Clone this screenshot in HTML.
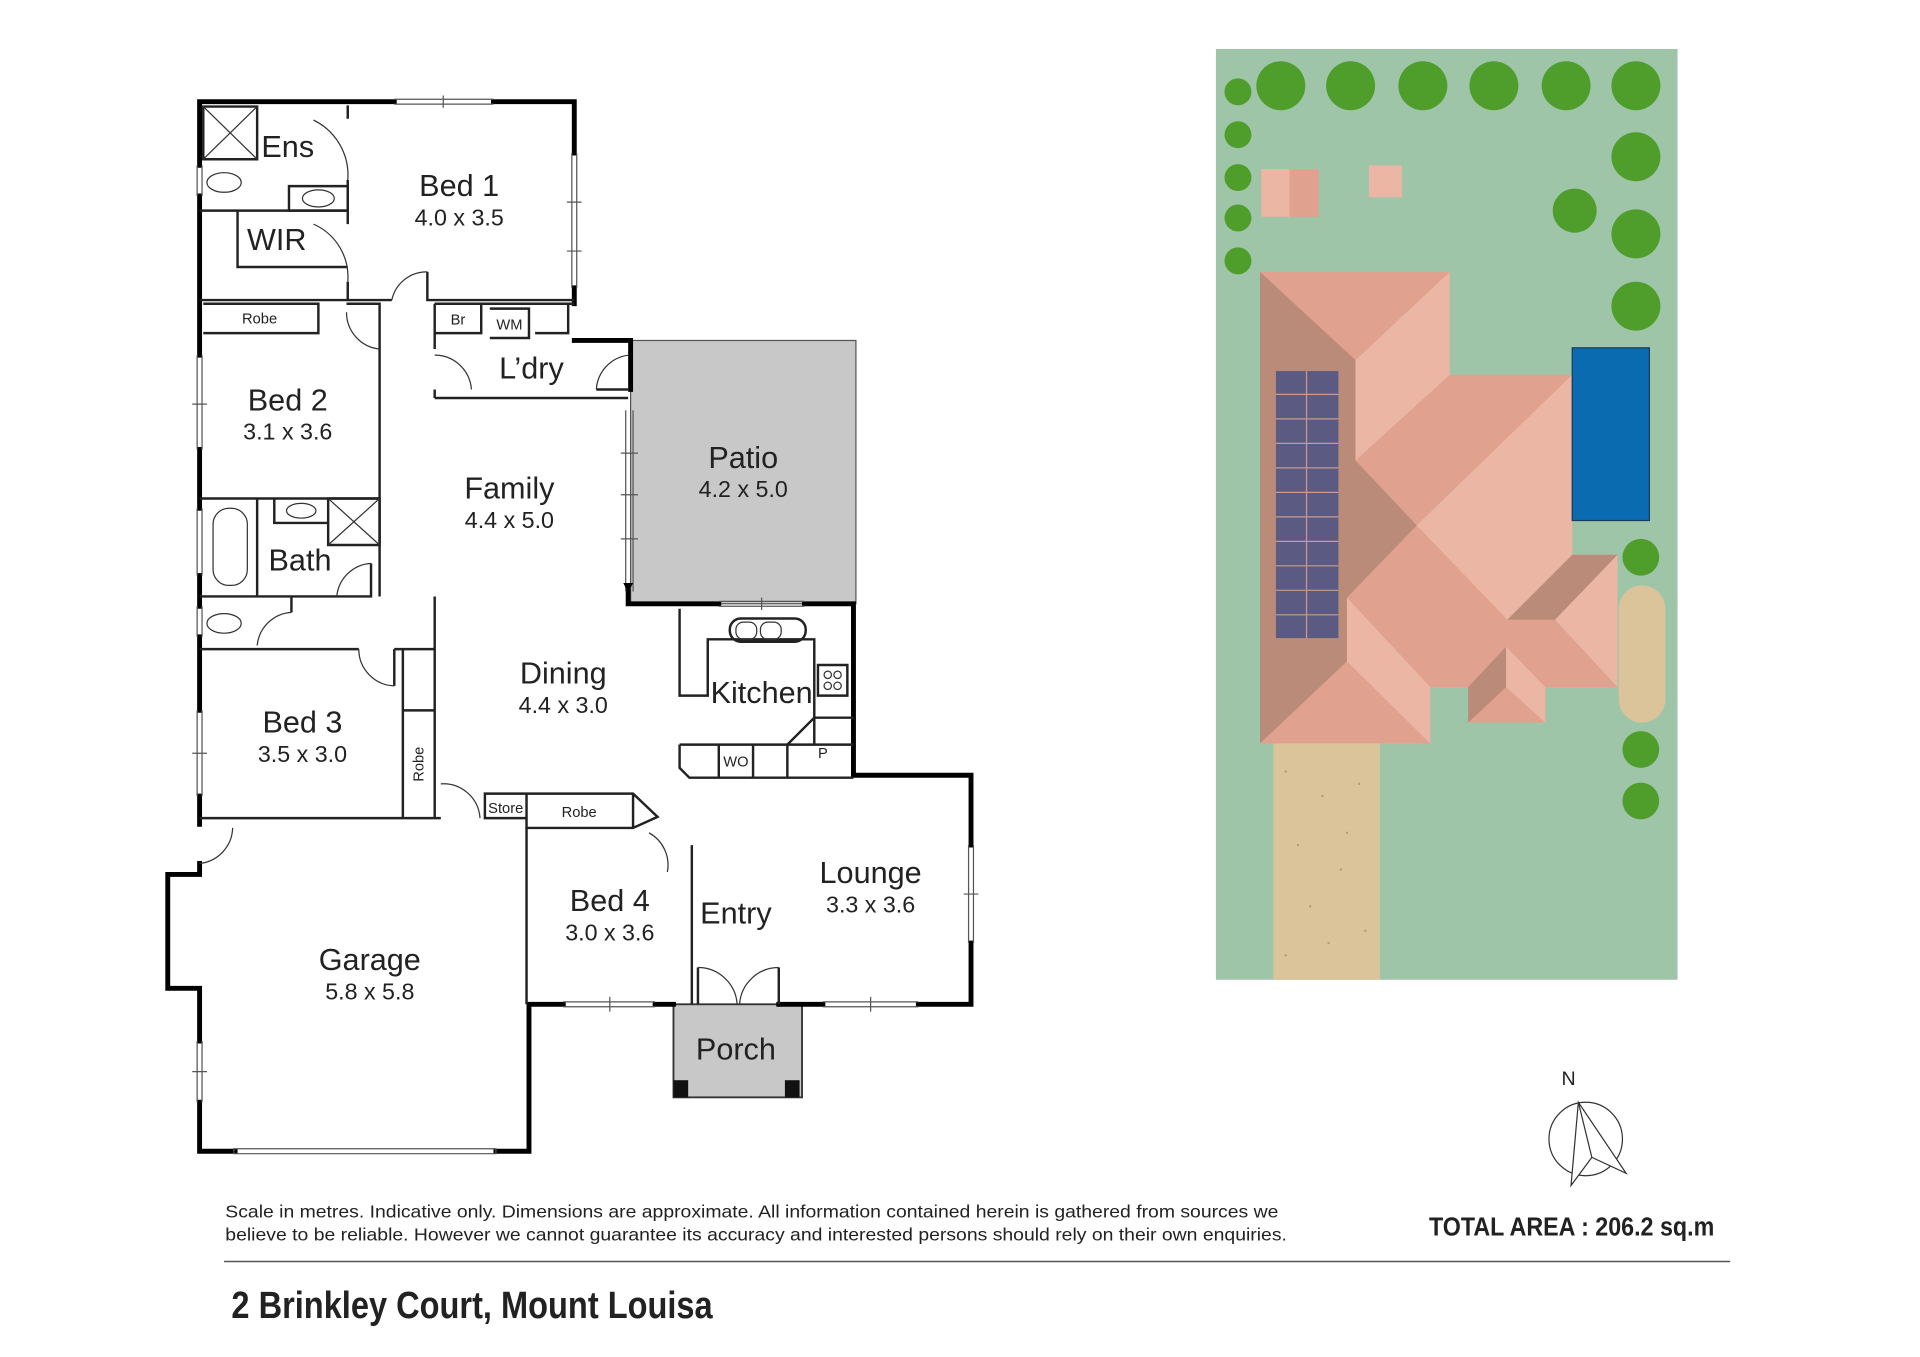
<!DOCTYPE html>
<html><head><meta charset="utf-8"><style>
html,body{margin:0;padding:0;background:#fff}
svg{display:block}
text{font-family:"Liberation Sans",sans-serif;fill:#222}
.r{font-size:25px}
.d{font-size:19px}
.s{font-size:12px}
</style></head><body>
<svg width="1920" height="1357" viewBox="0 0 1568 1108" preserveAspectRatio="none" xmlns="http://www.w3.org/2000/svg">
<rect width="1568" height="1108" fill="#fff"/>
<rect x="993" y="40" width="377" height="760" fill="#9fc5a9"/>
<rect x="1040" y="607" width="87" height="193" fill="#dcc49a"/>
<g fill="#b89a70"><circle cx="1050" cy="630" r="1"/><circle cx="1080" cy="650" r="1"/><circle cx="1110" cy="640" r="1"/><circle cx="1060" cy="690" r="1"/><circle cx="1095" cy="710" r="1"/><circle cx="1070" cy="740" r="1"/><circle cx="1115" cy="760" r="1"/><circle cx="1050" cy="780" r="1"/><circle cx="1100" cy="680" r="1"/><circle cx="1085" cy="770" r="1"/></g>
<rect x="1322" y="478" width="38" height="112" rx="19" fill="#dcc49a"/>
<rect x="1030" y="138" width="47" height="39" fill="#e0a28f"/>
<rect x="1030" y="138" width="23" height="39" fill="#ebb6a3"/>
<rect x="1118" y="135" width="27" height="26" fill="#ebb6a3"/>
<polygon points="1029,222 1184,222 1184,306 1284,306 1284,453 1321,453 1321,561 1262,561 1262,590 1199,590 1199,561 1168,561 1168,607 1029,607" fill="#e0a28f"/>
<polygon points="1029,222 1107,294 1107,376 1157,429 1100,488 1100,540 1029,607" fill="#b98b78"/>
<polygon points="1107,294 1184,222 1184,306 1107,376" fill="#ebb6a3"/>
<polygon points="1157,429 1284,306 1284,502 1231,506" fill="#ebb6a3"/>
<polygon points="1100,488 1168,561 1168,607 1100,540" fill="#ebb6a3"/>
<polygon points="1231,506 1284,453 1321,453 1270,506" fill="#b98b78"/>
<polygon points="1270,506 1321,453 1321,561" fill="#ebb6a3"/>
<polygon points="1199,590 1199,561 1230,528 1230,561" fill="#b98b78"/>
<polygon points="1230,528 1262,561 1262,590 1230,561" fill="#ebb6a3"/>
<rect x="1284" y="284" width="63" height="141" fill="#0b6bb0" stroke="#173c5c" stroke-width="1"/>
<rect x="1042" y="303" width="51" height="218" fill="#5a5a82"/>
<g stroke="#c89a90" stroke-width="1">
<line x1="1067" y1="303" x2="1067" y2="521"/>
<line x1="1042" y1="322" x2="1093" y2="322"/><line x1="1042" y1="342" x2="1093" y2="342"/><line x1="1042" y1="362" x2="1093" y2="362"/><line x1="1042" y1="382" x2="1093" y2="382"/><line x1="1042" y1="402" x2="1093" y2="402"/><line x1="1042" y1="422" x2="1093" y2="422"/><line x1="1042" y1="442" x2="1093" y2="442"/><line x1="1042" y1="462" x2="1093" y2="462"/><line x1="1042" y1="482" x2="1093" y2="482"/><line x1="1042" y1="502" x2="1093" y2="502"/>
</g>
<g fill="#4f9e2c">
<circle cx="1011" cy="75" r="11"/><circle cx="1046" cy="70" r="20"/><circle cx="1103" cy="70" r="20"/><circle cx="1162" cy="70" r="20"/><circle cx="1220" cy="70" r="20"/><circle cx="1279" cy="70" r="20"/><circle cx="1336" cy="70" r="20"/>
<circle cx="1011" cy="110" r="11"/><circle cx="1011" cy="145" r="11"/><circle cx="1011" cy="178" r="11"/><circle cx="1011" cy="213" r="11"/>
<circle cx="1336" cy="128" r="20"/><circle cx="1286" cy="172" r="18"/><circle cx="1336" cy="191" r="20"/><circle cx="1336" cy="250" r="20"/>
<circle cx="1340" cy="455" r="15"/><circle cx="1340" cy="612" r="15"/><circle cx="1340" cy="654" r="15"/>
</g>
<rect x="515" y="278" width="184" height="215" fill="#c8c8c8" stroke="#555" stroke-width="1"/>
<rect x="550" y="820" width="105" height="76" fill="#c8c8c8" stroke="#333" stroke-width="1.5"/>
<rect x="550" y="882" width="12" height="14" fill="#111"/><rect x="641" y="882" width="12" height="14" fill="#111"/>
<g stroke="#000" stroke-width="4" fill="none" stroke-linecap="square">
<path d="M322,83 H163 V135 M163,160 V290 M163,367 V415 M163,470 V495 M163,520 V580 M163,650 V673"/>
<path d="M403,83 H469 V125 M469,235 V248 M469,278 H515 V318"/>
<path d="M513,483 V493 H587 M657,493 H697 V633 H793 V690 M793,770 V820 H750 M672,820 H636 M550,820 H535 M460,820 H432 V940 H405 M192,940 H163 V900 M163,850 V807 H137 V714 H163 V705"/>
</g>
<g stroke="#555" stroke-width="1" fill="none">
<path d="M322,81 H403 M322,85 H403 M362,78 V88"/>
<path d="M467,125 V235 M471,125 V235 M463,165 H475 M463,205 H475"/>
<path d="M161,290 V367 M165,290 V367 M157,330 H169"/>
<path d="M161,580 V650 M165,580 V650 M157,615 H169"/>
<path d="M161,850 V900 M165,850 V900 M157,875 H169"/>
<path d="M191,938 H405 V942 H191 Z"/>
<path d="M511,335 V483 M517,335 V483 M507,370 H521 M507,404 H521 M507,440 H521"/>
<path d="M587,491 H657 M587,495 H657 M622,488 V498"/>
<path d="M791,690 V770 M795,690 V770 M787,730 H799"/>
<path d="M460,818 H535 M460,822 H535 M498,814 V826"/>
<path d="M672,818 H750 M672,822 H750 M711,814 V826"/>
<path d="M161,135 V160 M165,135 V160 M161,495 V520 M165,495 V520 M161,415 V470 M165,415 V470"/>
</g>
<polygon points="509,476 517,476 513,484" fill="#000"/>
<g stroke="#222" stroke-width="2" fill="none">
<path d="M163,172 H284 M284,86 V97 M284,147 V183 M284,230 V245 H163 M284,245 H320 M349,222 V245 H469"/>
<path d="M166,87 H210 V130 H166 Z"/>
<path d="M236,152 H284 V172 H236 Z"/>
<path d="M194,172 V218 H284"/>
<path d="M166,248 H260 V272 H166"/>
<path d="M283,248 H310 V487 M310,285 V487"/>
<path d="M163,407 H310 M210,407 V487 M163,487 H303 V460 M224,407 V427 H268"/>
<path d="M268,407 H310 V445 H268 Z"/>
<path d="M238,487 V500 M163,530 H293 M322,530 V560 M355,487 V530 H322"/>
<path d="M329,530 V668 M355,530 V668 M329,580 H355 M163,668 H360"/>
<path d="M355,248 V285 M355,325 H513 M355,318 V325 M355,248 H393 V272 H355 M400,252 H432 V276 H400 M437,248 H464 V272 H437 M393,248 H469"/>
<path d="M487,318 H513"/>
<path d="M555,497 V568 H578 V522 H665 V608 M555,608 H697 M555,608 V627 L563,635 H697 M587,608 V635 M615,608 V635 M643,608 V635 M643,608 L665,586 H697"/>
<path d="M668,543 H692 V568 H668 Z"/>
<rect x="596" y="505" width="62" height="19" rx="9"/>
<path d="M396,648 H517 L537,667 L517,676 H430 V668 H396 Z M430,648 V676 M517,648 V676"/>
<path d="M430,676 V820 M565,690 V820 M636,790 V820 M570,790 V820"/>
</g>
<g stroke="#333" stroke-width="1" fill="none">
<path d="M166,87 L210,130 M210,87 L166,130 M268,407 L310,445 M310,407 L268,445"/>
<ellipse cx="183" cy="149" rx="14" ry="8"/><ellipse cx="260" cy="162" rx="13" ry="7"/>
<ellipse cx="246" cy="417" rx="12" ry="6"/><rect x="174" y="415" width="28" height="63" rx="13"/>
<ellipse cx="183" cy="509" rx="14" ry="8"/>
<rect x="601" y="508" width="17" height="14" rx="6"/><rect x="621" y="508" width="17" height="14" rx="6"/>
<circle cx="676" cy="551" r="3"/><circle cx="684" cy="551" r="3"/><circle cx="676" cy="560" r="3"/><circle cx="684" cy="560" r="3"/>
<path d="M256,98 A50,50 0 0 1 284,147 M256,183 A47,47 0 0 1 284,230 M320,245 A29,29 0 0 1 349,222 M283,255 A30,30 0 0 0 310,285 M355,290 A30,30 0 0 1 385,318 M513,290 A30,30 0 0 0 487,318 M303,460 A30,30 0 0 0 275,487 M238,500 A30,30 0 0 0 210,527 M293,530 A30,30 0 0 0 322,560 M360,640 A30,30 0 0 1 392,668 M163,705 A30,30 0 0 0 190,676 M530,680 A30,30 0 0 1 545,712 M570,790 A32,32 0 0 1 602,820 M636,790 A32,32 0 0 0 604,820"/>
</g>
<g text-anchor="middle">
<text class="r" x="375" y="160">Bed 1</text><text class="d" x="375" y="184">4.0 x 3.5</text>
<text class="r" x="235" y="128">Ens</text><text class="r" x="226" y="204">WIR</text>
<text class="s" x="212" y="264">Robe</text><text class="s" x="374" y="265">Br</text><text class="s" x="416" y="269">WM</text>
<text class="r" x="434" y="309">L’dry</text>
<text class="r" x="235" y="335">Bed 2</text><text class="d" x="235" y="359">3.1 x 3.6</text>
<text class="r" x="607" y="382">Patio</text><text class="d" x="607" y="406">4.2 x 5.0</text>
<text class="r" x="416" y="407">Family</text><text class="d" x="416" y="431">4.4 x 5.0</text>
<text class="r" x="245" y="466">Bath</text>
<text class="r" x="460" y="558">Dining</text><text class="d" x="460" y="582">4.4 x 3.0</text>
<text class="r" x="622" y="574">Kitchen</text>
<text class="s" x="601" y="626">WO</text><text class="s" x="672" y="619">P</text>
<text class="r" x="247" y="598">Bed 3</text><text class="d" x="247" y="622">3.5 x 3.0</text>
<text class="s" x="0" y="0" transform="translate(346,624) rotate(-90)">Robe</text>
<text class="s" x="413" y="664">Store</text><text class="s" x="473" y="667">Robe</text>
<text class="r" x="711" y="721">Lounge</text><text class="d" x="711" y="745">3.3 x 3.6</text>
<text class="r" x="498" y="744">Bed 4</text><text class="d" x="498" y="768">3.0 x 3.6</text>
<text class="r" x="601" y="754">Entry</text>
<text class="r" x="302" y="792">Garage</text><text class="d" x="302" y="816">5.8 x 5.8</text>
<text class="r" x="601" y="865">Porch</text>
<text style="font-size:16px" x="1281" y="886">N</text>
</g>
<g stroke="#333" stroke-width="1" fill="none">
<circle cx="1295" cy="930" r="30"/>
<polygon points="1283,968 1289,900 1328,958 1300,945" fill="#fff"/>
<line x1="1289" y1="900" x2="1300" y2="945"/>
</g>
<text x="184" y="994" style="font-size:14px" textLength="860" lengthAdjust="spacingAndGlyphs">Scale in metres. Indicative only. Dimensions are approximate. All information contained herein is gathered from sources we</text>
<text x="184" y="1013" style="font-size:14px" textLength="867" lengthAdjust="spacingAndGlyphs">believe to be reliable. However we cannot guarantee its accuracy and interested persons should rely on their own enquiries.</text>
<text x="1167" y="1009" style="font-size:21px;font-weight:bold" textLength="233" lengthAdjust="spacingAndGlyphs">TOTAL AREA : 206.2 sq.m</text>
<line x1="183" y1="1030" x2="1413" y2="1030" stroke="#555" stroke-width="1.2"/>
<text x="189" y="1076" style="font-size:31px;font-weight:bold" textLength="393" lengthAdjust="spacingAndGlyphs">2 Brinkley Court, Mount Louisa</text>
</svg>
</body></html>
